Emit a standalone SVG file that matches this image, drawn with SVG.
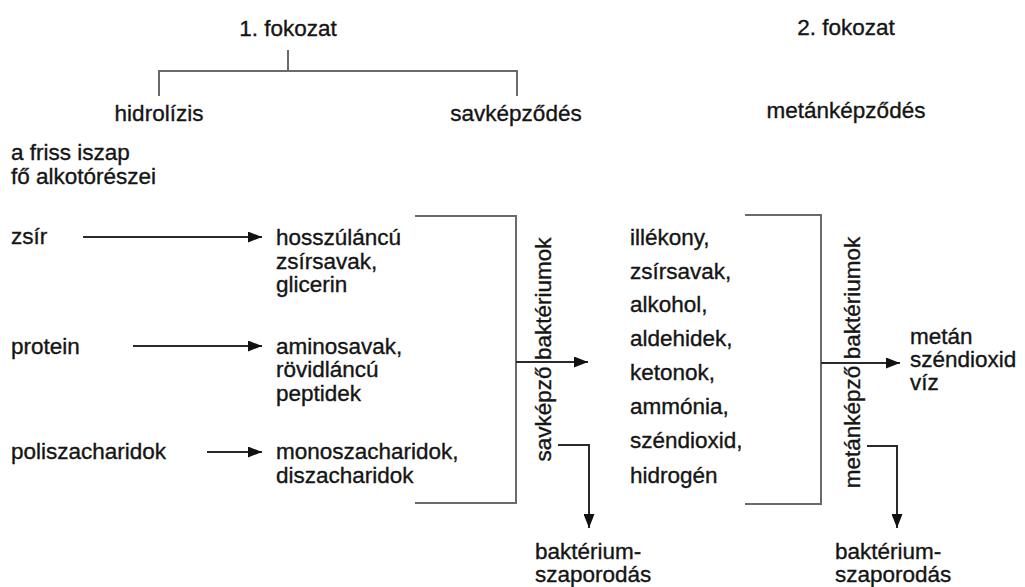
<svg xmlns="http://www.w3.org/2000/svg" width="1025" height="587" viewBox="0 0 1025 587">
<style>
text{font-family:"Liberation Sans",Arial,sans-serif;font-size:22.5px;fill:#151515;stroke:#151515;stroke-width:0.35}
.c{text-anchor:middle}
.br{fill:none;stroke:#6a6a6a;stroke-width:2}
.ar{fill:none;stroke:#2a2a2a;stroke-width:2;marker-end:url(#ah)}
</style>
<defs>
<marker id="ah" markerUnits="userSpaceOnUse" markerWidth="14" markerHeight="11" refX="14" refY="5.5" orient="auto">
<path d="M0,0 L14,5.5 L0,11 z" fill="#111"/>
</marker>
</defs>
<rect width="1025" height="587" fill="#fff"/>
<g id="headers">
<text class="c" x="288" y="36">1. fokozat</text>
<text class="c" x="846" y="35">2. fokozat</text>
<text class="c" x="159" y="121">hidrolízis</text>
<text class="c" x="516" y="121">savképződés</text>
<text class="c" x="846" y="118">metánképződés</text>
<path class="br" d="M288,50 V71 M159,96 V71 H517 V96"/>
</g>
<g id="components">
<text x="11" y="160">a friss iszap</text>
<text x="11" y="184">fő alkotórészei</text>
</g>
<g id="zsir"><text x="11" y="244">zsír</text></g>
<g id="protein"><text x="11" y="354">protein</text></g>
<g id="poli"><text x="11" y="459">poliszacharidok</text></g>
<g id="hydro1"><text x="276" y="245">hosszúláncú</text><text x="276" y="269">zsírsavak,</text><text x="276" y="292">glicerin</text></g>
<g id="hydro2"><text x="276" y="354">aminosavak,</text><text x="276" y="377">rövidláncú</text><text x="276" y="401">peptidek</text></g>
<g id="hydro3"><text x="276" y="459">monoszacharidok,</text><text x="276" y="483">diszacharidok</text></g>
<g id="acid-bacteria"><text transform="translate(551,349.5) rotate(-90)" class="c">savképző baktériumok</text></g>
<g id="acid-products">
<text x="630" y="245">illékony,</text>
<text x="630" y="279">zsírsavak,</text>
<text x="630" y="312">alkohol,</text>
<text x="630" y="346">aldehidek,</text>
<text x="630" y="380">ketonok,</text>
<text x="630" y="414">ammónia,</text>
<text x="630" y="448">széndioxid,</text>
<text x="630" y="483">hidrogén</text>
</g>
<g id="methane-bacteria"><text transform="translate(860,362.5) rotate(-90)" class="c">metánképző baktériumok</text></g>
<g id="methane-products"><text x="910" y="344">metán</text><text x="910" y="367">széndioxid</text><text x="910" y="390">víz</text></g>
<g id="growth1"><text x="535" y="559">baktérium-</text><text x="535" y="582">szaporodás</text></g>
<g id="growth2"><text x="835" y="559">baktérium-</text><text x="835" y="582">szaporodás</text></g>
<g id="connectors">
<path class="ar" d="M83,237 H262"/>
<path class="ar" d="M133,346 H262"/>
<path class="ar" d="M207,452 H262"/>
<path class="br" d="M415,216 H516 V503 H415"/>
<path class="ar" d="M516,362 H588"/>
<path class="ar" d="M558,445 H589 V528"/>
<path class="br" d="M745,215 H821 V504 H745"/>
<path class="ar" d="M821,363 H900"/>
<path class="ar" d="M867,446 H897 V528"/>
</g>
</svg>
